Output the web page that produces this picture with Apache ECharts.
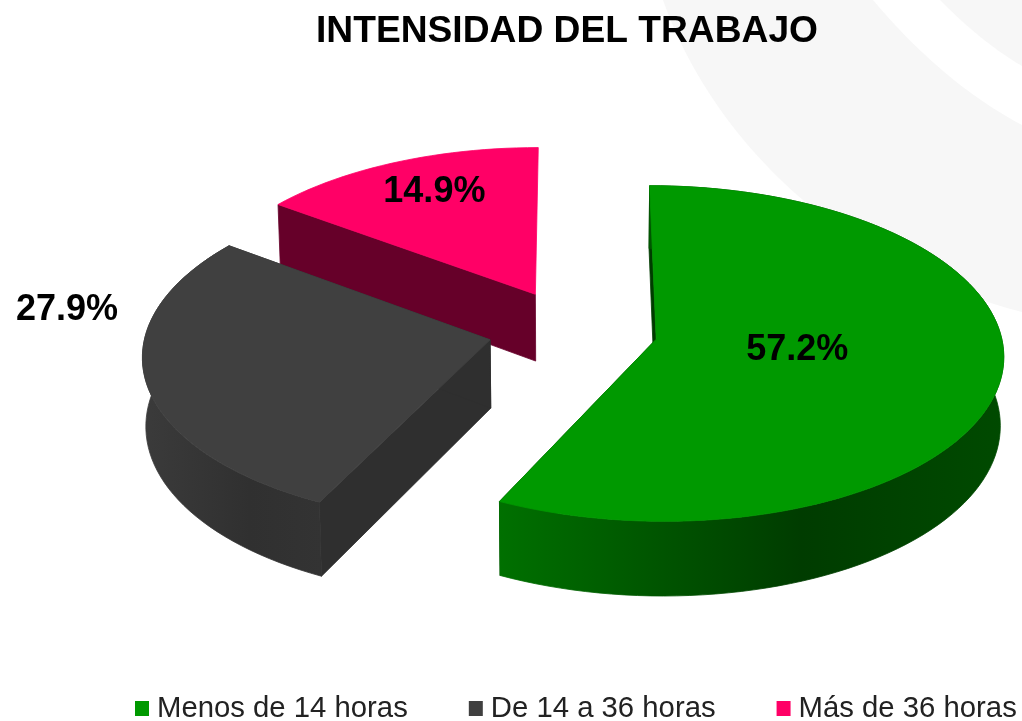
<!DOCTYPE html>
<html>
<head>
<meta charset="utf-8">
<style>
  html, body { margin: 0; padding: 0; background: #fff; }
  #main { width: 1022px; height: 721px; }
</style>
<script src="https://cdn.jsdelivr.net/npm/echarts@6/dist/echarts.min.js"></script>
</head>
<body>
<div id="main"></div>
<script>
const categories = ['Menos de 14 horas', 'De 14 a 36 horas', 'Más de 36 horas']
const percentages = [57.2, 27.9, 14.9]

// look of each slice, index matches categories
const topColors = ['#009900', '#404040', '#ff0066']
const cutColors = ['#003c00', '#2f2f2f', '#660029']
const wallStops = [
  [[0, '#007000'], [0.6, '#003c00'], [1, '#004a00']],
  [[0, '#3b3b3b'], [0.6, '#303030'], [1, '#333333']]
]
const labelOffsets = [[141, 11], [-423, -30], [-101, -102]]

// fake 3d projection: u goes right, v goes towards the viewer
const cx = 573
const cy = 330
const radiusX = 344
const radiusY = 165
const perspective = 0.085
const depth = 68
const bottomShrink = 0.992
const explode = 0.247

const total = percentages.reduce((a, b) => a + b, 0)

function project (u, v, low) {
  const s = 1 / (1 - perspective * v)
  const shrink = low ? bottomShrink : 1
  return [
    cx + radiusX * u * s * shrink,
    cy + radiusY * v * s + (low ? depth * s : 0)
  ]
}

function renderSlice (index) {
  return function (params, api) {
    const value = api.value(0)
    let before = 0
    for (let i = 0; i < index; i++) before += percentages[i]
    const start = before / total * Math.PI * 2
    const end = start + value / total * Math.PI * 2
    const mid = (start + end) / 2
    const ou = Math.sin(mid) * explode
    const ov = -Math.cos(mid) * explode

    const rim = (a, low) => project(ou + Math.sin(a), ov - Math.cos(a), low)
    const arcTop = []
    const arcLow = []
    const steps = Math.ceil((end - start) / (Math.PI / 90))
    for (let i = 0; i <= steps; i++) {
      const a = start + (end - start) * i / steps
      arcTop.push(rim(a, false))
      arcLow.push(rim(a, true))
    }
    const apexTop = project(ou, ov, false)
    const apexLow = project(ou, ov, true)
    // stroke in the fill colour hides the seams between polygons
    const poly = (points, fill) => ({
      type: 'polygon',
      shape: { points },
      style: { fill, stroke: fill, lineWidth: 0.8, lineJoin: 'round' }
    })

    const children = [poly([arcTop[0], apexTop, apexLow, arcLow[0]], cutColors[index])]
    // the back slice only shows its cut face
    if (wallStops[index]) {
      children.push(
        poly([arcTop[steps], apexTop, apexLow, arcLow[steps]], cutColors[index]),
        poly(arcTop.concat(arcLow.slice().reverse()),
          new echarts.graphic.LinearGradient(0, 0, 1, 0, wallStops[index].map(s => ({ offset: s[0], color: s[1] }))))
      )
    }
    children.push(
      poly(arcTop.concat([apexTop]), topColors[index]),
      {
        type: 'text',
        z2: 10,
        style: {
          x: apexTop[0] + labelOffsets[index][0],
          y: apexTop[1] + labelOffsets[index][1],
          text: value.toFixed(1) + '%',
          fill: '#000',
          font: 'bold 36px "Liberation Sans", Arial, sans-serif',
          align: 'center',
          verticalAlign: 'middle'
        }
      }
    )
    return { type: 'group', children }
  }
}

// background swooshes of the slide template
function bezier (p0, p1, p2, p3) {
  const out = []
  for (let i = 0; i <= 40; i++) {
    const t = i / 40
    const m = 1 - t
    out.push([
      m * m * m * p0[0] + 3 * m * m * t * p1[0] + 3 * m * t * t * p2[0] + t * t * t * p3[0],
      m * m * m * p0[1] + 3 * m * m * t * p1[1] + 3 * m * t * t * p2[1] + t * t * t * p3[1]
    ])
  }
  return out
}
const swooshBig = bezier([663, 0], [705, 120], [820, 260], [1022, 312])
  .concat(bezier([1022, 125], [965, 95], [915, 50], [873, 0]))
const swooshSmall = bezier([940, 0], [965, 25], [990, 47], [1022, 66]).concat([[1022, 0]])

const myChart = echarts.init(document.getElementById('main'))

// back slice first so the nearer ones paint over it
const series = [2, 1, 0].map(i => ({
  type: 'custom',
  name: categories[i],
  coordinateSystem: 'none',
  itemStyle: { color: topColors[i] },
  renderItem: renderSlice(i),
  silent: true,
  data: [[percentages[i]]]
}))

myChart.setOption({
  animation: false,
  backgroundColor: '#fff',
  title: {
    text: 'INTENSIDAD DEL TRABAJO',
    left: 562,
    top: 8,
    textAlign: 'center',
    textStyle: { color: '#000', fontSize: 37.2, fontWeight: 'bold', fontFamily: '"Liberation Sans", Arial, sans-serif' }
  },
  legend: {
    data: categories,
    left: 135,
    top: 694,
    padding: 0,
    icon: 'rect',
    itemWidth: 14,
    itemHeight: 15,
    itemGap: 61,
    textStyle: { color: '#222', fontSize: 29.3, padding: [0, 0, 0, 3], fontFamily: '"Liberation Sans", Arial, sans-serif' }
  },
  graphic: [
    { type: 'polygon', silent: true, z: -10, shape: { points: swooshBig }, style: { fill: '#f7f7f7' } },
    { type: 'polygon', silent: true, z: -10, shape: { points: swooshSmall }, style: { fill: '#f7f7f7' } }
  ],
  series
})
</script>
</body>
</html>
